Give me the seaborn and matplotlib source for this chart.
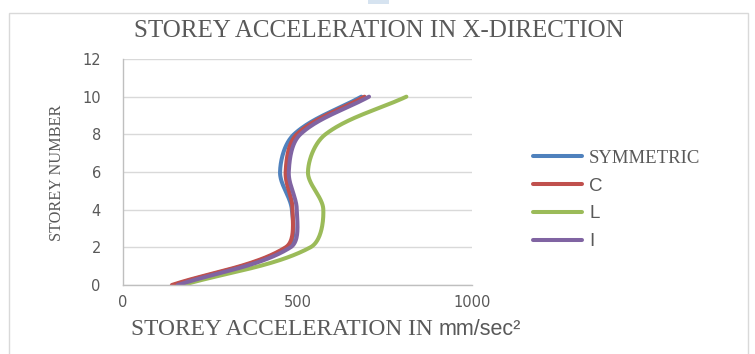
import numpy as np
import pandas as pd
import matplotlib
matplotlib.use("Agg")
import matplotlib.pyplot as plt
from matplotlib.patches import Rectangle
import seaborn as sns

# Storey acceleration (mm/sec^2) per building plan shape
storeys = [0, 2, 4, 6, 8, 10]
symmetric = [147, 470, 484, 450, 490, 683]
shape_c = [140, 466, 486, 466, 498, 692]
shape_l = [172, 537, 574, 530, 580, 812]
shape_i = [157, 480, 498, 475, 508, 705]

series_names = ["SYMMETRIC", "C", "L", "I"]
series_values = [symmetric, shape_c, shape_l, shape_i]
series_colors = ["#4f81bd", "#c0504d", "#9bbb59", "#8064a2"]

x_ticks = [0, 500, 1000]
y_ticks = [0, 2, 4, 6, 8, 10, 12]

W, H = 755, 354
GREY_TEXT = "#595959"

sns.set_theme(style="white")
plt.rcParams["font.family"] = ["DejaVu Sans"]

fig = plt.figure(figsize=(W / 100, H / 100), dpi=100)
ax_l, ax_r, ax_t, ax_b = 123, 472, 59, 285
ax = fig.add_axes([ax_l / W, 1 - ax_b / H, (ax_r - ax_l) / W, (ax_b - ax_t) / H])


def smooth_curve(xs, ys, sx, sy, n=40):
    """Chord-weighted Bezier smoothing in screen proportions."""
    p = np.column_stack([np.asarray(xs, float) * sx, np.asarray(ys, float) * sy])
    ext = np.vstack([p[0], p, p[-1]])
    out = []
    t = np.linspace(0, 1, n)[:, None]
    for k in range(len(p) - 1):
        p0, p1, p2, p3 = ext[k], ext[k + 1], ext[k + 2], ext[k + 3]
        d01 = np.linalg.norm(p1 - p0)
        d12 = np.linalg.norm(p2 - p1)
        d23 = np.linalg.norm(p3 - p2)
        c1 = p1 + (p2 - p0) * (d12 / (d01 + d12)) / 3
        c2 = p2 - (p3 - p1) * (d12 / (d12 + d23)) / 3
        seg = ((1 - t) ** 3) * p1 + 3 * ((1 - t) ** 2) * t * c1 + 3 * (1 - t) * t ** 2 * c2 + t ** 3 * p2
        out.append(seg if k == 0 else seg[1:])
    out = np.vstack(out)
    return out[:, 0] / sx, out[:, 1] / sy


sx = (ax_r - ax_l) / 1000.0
sy = (ax_b - ax_t) / 12.0
frames = []
for name, vals in zip(series_names, series_values):
    cx, cy = smooth_curve(vals, storeys, sx, sy)
    frames.append(pd.DataFrame({"Shape": name, "acc": cx, "storey": cy}))
df = pd.concat(frames, ignore_index=True)

sns.lineplot(data=df, x="acc", y="storey", hue="Shape", hue_order=series_names,
             palette=series_colors, sort=False, estimator=None, units="Shape",
             linewidth=2.9, ax=ax, legend=True)

ax.set_xlim(0, 1000)
ax.set_ylim(0, 12)
ax.set_xticks(x_ticks)
ax.set_yticks(y_ticks)
ax.set_xlabel("")
ax.set_ylabel("")
ax.yaxis.grid(True, color="#d9d9d9", linewidth=1)
ax.xaxis.grid(False)
ax.set_axisbelow(True)
for s in ["top", "right"]:
    ax.spines[s].set_visible(False)
for s in ["left", "bottom"]:
    ax.spines[s].set_color("#bfbfbf")
    ax.spines[s].set_linewidth(1)
ax.tick_params(axis="y", length=0, pad=16, labelsize=10.5, labelcolor=GREY_TEXT)
ax.tick_params(axis="x", length=0, pad=7, labelsize=10.5, labelcolor=GREY_TEXT)

# Legend on the right
handles, labels = ax.get_legend_handles_labels()
ax.get_legend().remove()
leg = fig.legend(handles, labels, loc="center left",
                 bbox_to_anchor=(533 / W, 1 - 200 / H), bbox_transform=fig.transFigure,
                 frameon=False, borderpad=0, borderaxespad=0, fontsize=13.5,
                 handlelength=2.6, handletextpad=0.4, labelspacing=0.57)
for txt in leg.get_texts():
    txt.set_color(GREY_TEXT)
    if txt.get_text() == "SYMMETRIC":
        txt.set_fontfamily("Liberation Serif")
    else:
        txt.set_fontfamily("Liberation Sans")
for ln in leg.get_lines():
    ln.set_linewidth(2.9)

# Titles
fig.text(378.5 / W, 1 - 31 / H, "STOREY ACCELERATION IN X-DIRECTION",
         ha="center", va="center", fontsize=18, family="Liberation Serif", color=GREY_TEXT)
fig.text(57 / W, 1 - 173 / H, "STOREY NUMBER", rotation=90, ha="center", va="center",
         fontsize=11.7, family="Liberation Serif", color=GREY_TEXT)
xl = fig.text(131 / W, 1 - 335 / H, "STOREY ACCELERATION IN", ha="left", va="baseline",
              fontsize=16.8, family="Liberation Serif", color=GREY_TEXT)
fig.canvas.draw()
bb = xl.get_window_extent()
fig.text((bb.x1 + 6) / W, 1 - 335 / H, "mm/sec²", ha="left", va="baseline",
         fontsize=15.5, family="Liberation Sans", color=GREY_TEXT)

# Chart frame
fig.patches.append(Rectangle((9 / W, -0.05), (748 - 9) / W, 1 - 13 / H + 0.05,
                             transform=fig.transFigure, fill=False,
                             edgecolor="#d9d9d9", linewidth=1))
fig.patches.append(Rectangle((368 / W, 1 - 4 / H), 21 / W, 4 / H,
                             transform=fig.transFigure, facecolor="#d6e3f0",
                             edgecolor="none"))

fig.savefig("out.png", dpi=100)
